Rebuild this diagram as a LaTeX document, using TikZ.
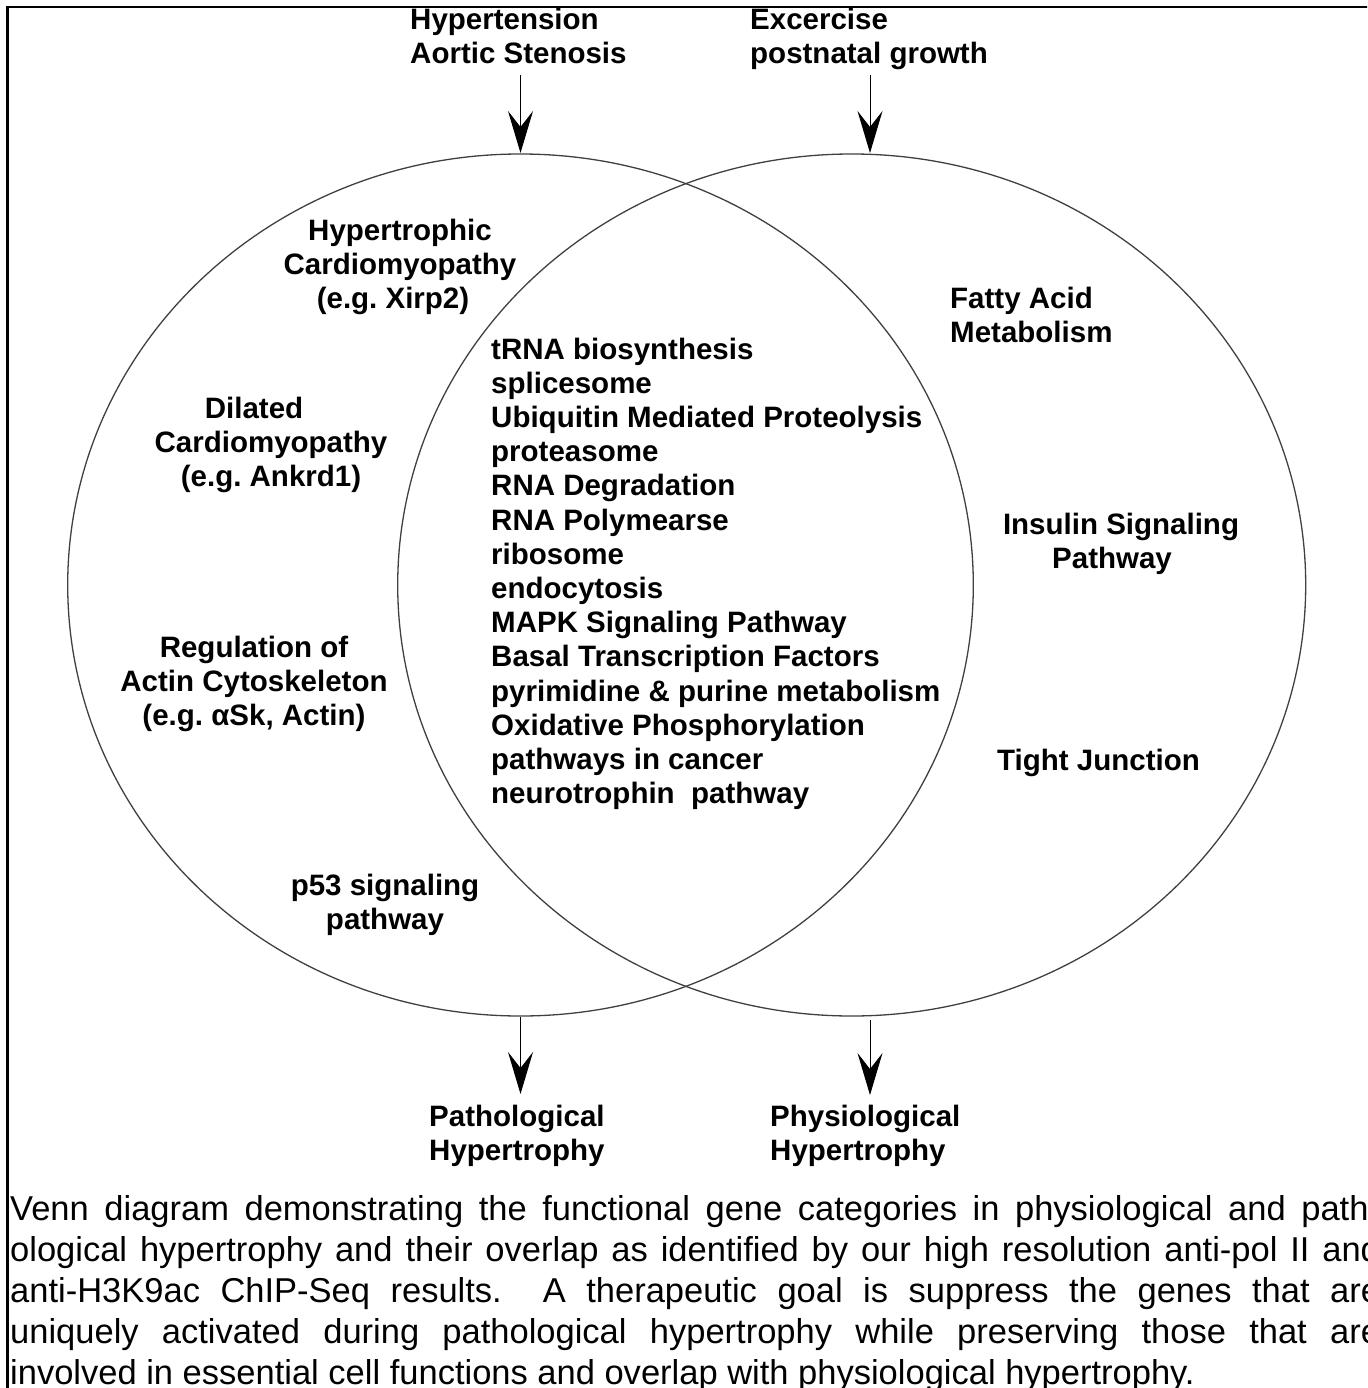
\documentclass[tikz,border=0pt]{standalone}
\usepackage{fontspec}
\setmainfont{Liberation Sans}
\usetikzlibrary{arrows.meta,shapes.geometric}
\frenchspacing
\tikzset{
  lbl/.style={inner sep=0pt, font=\fontsize{29.5}{34.2}\selectfont\bfseries},
  setshape/.style={draw=black!75, line width=1.3pt, ellipse, inner sep=0pt},
  flow/.style={line width=1pt, -{Stealth[length=42pt,width=25pt,inset=16pt]}},
  frameline/.style={line width=2.5pt}
}
\begin{document}
\begin{tikzpicture}[x=1pt,y=-1pt]
\useasboundingbox (0,0) rectangle (1367,1388);
\clip (0,0) rectangle (1367,1388);
% frame
\draw[frameline] (7.5,1400) -- (7.5,7) -- (1380,7);
% sets
\node[setshape, minimum width=905.6pt, minimum height=862pt] (pathset) at (520.5,585) {};
\node[setshape, minimum width=908pt, minimum height=862pt] (physset) at (851.7,585) {};
% top labels (anchor base = last line)
\node[lbl, anchor=base west, align=left] (hyp) at (410,63.6) {Hypertension\\Aortic Stenosis};
\node[lbl, anchor=base west, align=left] (exc) at (750,63.6) {Excercise\\postnatal growth};
% arrow coordinates
\coordinate (hypS) at (520.5,75);
\coordinate (hypE) at (520.5,153);
\coordinate (excS) at (870,75);
\coordinate (excE) at (870,153);
\coordinate (patS) at (520.5,1017);
\coordinate (patE) at (520.5,1094);
\coordinate (phyS) at (870,1020);
\coordinate (phyE) at (870,1095);
\draw[flow] (hypS) -- (hypE);
\draw[flow] (excS) -- (excE);
\draw[flow] (patS) -- (patE);
\draw[flow] (phyS) -- (phyE);
% region labels
\node[lbl, anchor=base, align=center] (hcm) at (400,308.6) {Hypertrophic\\Cardiomyopathy\\(e.g. Xirp2)\hspace*{14pt}};
\node[lbl, anchor=base west, align=left] (fatty) at (950,342.6) {Fatty Acid\\Metabolism};
\node[lbl, anchor=base west, align=left] (shared) at (491,803.6) {tRNA biosynthesis\\splicesome\\Ubiquitin Mediated Proteolysis\\proteasome\\RNA Degradation\\RNA Polymearse\\ribosome\\endocytosis\\MAPK Signaling Pathway\\Basal Transcription Factors\\pyrimidine \& purine metabolism\\Oxidative Phosphorylation\\pathways in cancer\\neurotrophin\ \ pathway};
\node[lbl, anchor=base, align=center] (dcm) at (271,486.6) {Dilated\hspace*{34pt}\\Cardiomyopathy\\(e.g. Ankrd1)};
\node[lbl, anchor=base, align=center] (insulin) at (1121,568.6) {Insulin Signaling\\Pathway\hspace*{18pt}};
\node[lbl, anchor=base, align=center] (actin) at (254,725.6) {Regulation of\\Actin Cytoskeleton\\(e.g. αSk, Actin)};
\node[lbl, anchor=base west] (tight) at (997,770.6) {Tight Junction};
\node[lbl, anchor=base, align=center] (p53) at (385,929.6) {p53 signaling\\pathway};
\node[lbl, anchor=base west, align=left] (patho) at (429,1160.6) {Pathological\\Hypertrophy};
\node[lbl, anchor=base west, align=left] (physio) at (770,1160.6) {Physiological\\Hypertrophy};
% caption
\node[inner sep=0pt, anchor=base west] (caption) at (10,1220.4) {\fontsize{34.5}{41}\selectfont\vtop{%
\hbox to 1370pt{Venn diagram demonstrating the functional gene categories in physiological and path-}
\hbox to 1370pt{ological hypertrophy and their overlap as identified by our high resolution anti-pol II and}
\hbox to 1370pt{anti-H3K9ac ChIP-Seq results.\ \ A therapeutic goal is suppress the genes that are}
\hbox to 1370pt{uniquely activated during pathological hypertrophy while preserving those that are}
\hbox{involved in essential cell functions and overlap with physiological hypertrophy.}}};
\end{tikzpicture}
\end{document}
